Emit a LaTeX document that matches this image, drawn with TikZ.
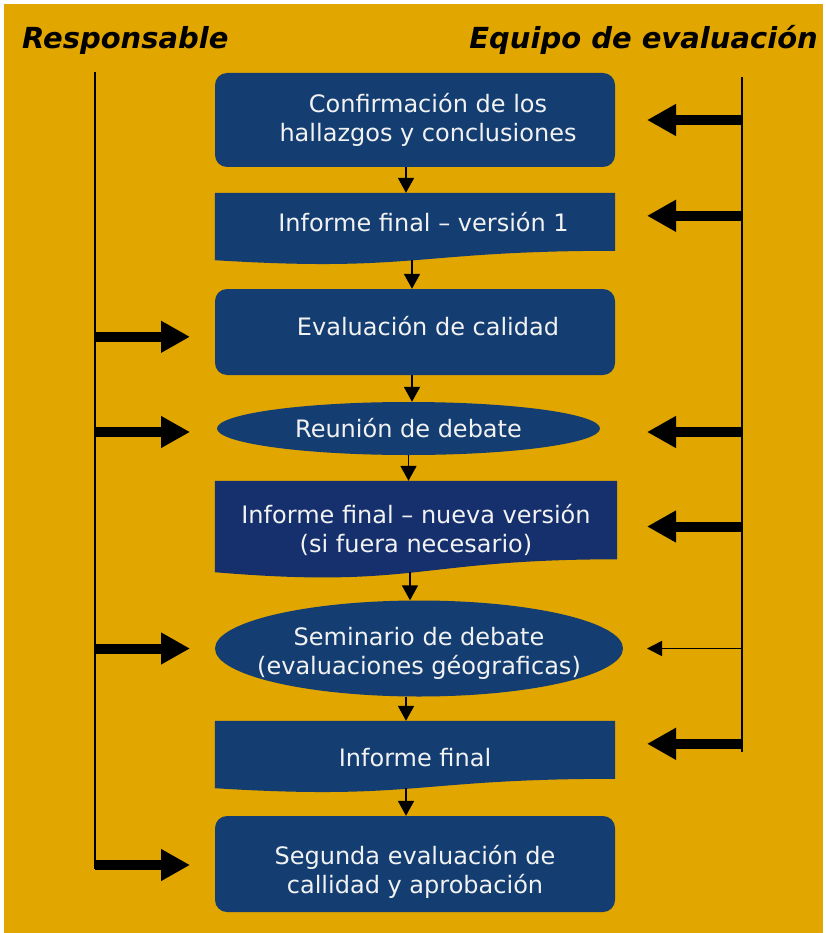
\documentclass[tikz,border=0pt]{standalone}
\usepackage{fontspec}
\setmainfont{DejaVu Sans}
\usetikzlibrary{shapes.geometric, arrows.meta}
\definecolor{gold}{HTML}{E1A600}
\definecolor{boxblue}{HTML}{143E72}
\definecolor{navyblue}{HTML}{15306C}
\definecolor{boxtext}{HTML}{F2F2F2}
\pgfdeclarelayer{back}
\pgfdeclarelayer{docs}
\pgfsetlayers{back,docs,main}
\tikzset{
    stepbox/.style={rectangle, rounded corners=12pt, fill=boxblue, text=boxtext, minimum width=400pt, inner sep=0pt, align=center, font=\fontsize{24}{29}\selectfont},
    docbox/.style={rectangle, minimum width=400pt, inner sep=0pt, align=center, text=boxtext, font=\fontsize{24}{29}\selectfont},
    talkbox/.style={ellipse, fill=boxblue, text=boxtext, inner ysep=0pt, inner xsep=-40pt, align=center, font=\fontsize{24}{29}\selectfont},
    head/.style={inner sep=0pt, font=\fontsize{29}{35}\selectfont\bfseries\itshape},
    lane/.style={line width=1.6pt},
    flow/.style={-{Triangle[width=16pt,length=15pt]}, line width=1.8pt},
    fat/.style={-{Triangle[width=30pt,length=29pt]}, line width=10pt},
    slim/.style={-{Triangle[width=15pt,length=15pt]}, line width=1.6pt},
}
% document shape under a node: node, colour, rise of the right corner
\newcommand{\docwave}[3]{%
    \fill[#2] (#1.north west) -- (#1.north east) -- ([yshift=#3]#1.south east)
        .. controls ([yshift=#3]#1.south) and ([yshift=-1.32*#3]#1.south) .. (#1.south west) -- cycle;}
% invisible struts to move a text up or down in its box
\newcommand{\padabove}[1]{\rule{0pt}{#1}}
\newcommand{\padbelow}[1]{\rule[-#1]{0pt}{#1}}
\begin{document}
\begin{tikzpicture}[x=1pt, y=-1pt]
    \useasboundingbox (0,0) rectangle (825,933);
    \begin{pgfonlayer}{back}
        \fill[gold] (4,4) rectangle (823,933);
    \end{pgfonlayer}

    \node[head, anchor=base west] (resp) at (22,49) {Responsable};
    \node[head, anchor=base east] (equipo) at (818,49) {Equipo de evaluación};

    \node[stepbox, minimum height=94pt] (conf) at (415,120) {\hspace*{26pt}Confirmación de los\\\hspace*{26pt}hallazgos y conclusiones};
    \node[docbox, minimum height=67pt] (inf1) at (415,226.5) {\hspace*{17pt}Informe final -- versión 1\padbelow{10pt}};
    \node[stepbox, minimum height=86pt] (eval) at (415,332) {\hspace*{26pt}Evaluación de calidad\padbelow{12pt}};
    \node[talkbox, minimum width=383pt, minimum height=53pt] (reun) at (408.5,428.5) {Reunión de debate};
    \node[docbox, minimum width=402pt, minimum height=91pt] (inf2) at (416,526.5) {\padabove{25.5pt}Informe final -- nueva versión\\(si fuera necesario)};
    \node[talkbox, minimum width=408pt, minimum height=96pt] (sem) at (419,648.5) {\padabove{27pt}Seminario de debate\\(evaluaciones géograficas)};
    \node[docbox, minimum height=67pt] (inff) at (415,754.5) {\padabove{24pt}Informe final};
    \node[stepbox, minimum height=96pt] (seg) at (415,864) {\padabove{35pt}Segunda evaluación de\\callidad y aprobación};

    \begin{pgfonlayer}{docs}
        \docwave{inf1}{boxblue}{9.4pt}
        \docwave{inf2}{navyblue}{12.9pt}
        \docwave{inff}{boxblue}{9.4pt}
    \end{pgfonlayer}

    % flow between the steps
    \draw[flow] ([xshift=-9pt]conf.south) -- ([xshift=-9pt]inf1.north);
    \draw[flow] ([xshift=-3pt]inf1.south) -- ([xshift=-3pt]eval.north);
    \draw[flow] ([xshift=-3pt]eval.south) -- ([xshift=-3pt]eval.south |- reun.north);
    \draw[flow] (reun.south) -- (reun.south |- inf2.north);
    \draw[flow] ([xshift=-6pt]inf2.south) -- ([xshift=-6pt]inf2.south |- sem.north);
    \draw[flow] ([xshift=-9pt]inff.north |- sem.south) -- ([xshift=-9pt]inff.north);
    \draw[flow] ([xshift=-9pt]inff.south) -- ([xshift=-9pt]seg.north);

    % responsable
    \coordinate (ltop) at (95,72);
    \coordinate (lbot) at (95,869);
    \draw[lane] (ltop) -- (lbot);
    \draw[fat] (ltop |- eval.north) ++(0,48) -- ++(95,0);
    \draw[fat] (ltop |- reun) ++(0,3.5) -- ++(95,0);
    \draw[fat] (ltop |- sem) -- ++(95,0);
    \draw[fat] (ltop |- seg) ++(0,1) -- ++(95,0);

    % equipo de evaluacion
    \coordinate (rtop) at (742,77);
    \coordinate (rbot) at (742,752);
    \draw[lane] (rtop) -- (rbot);
    \draw[fat] (rtop |- conf) -- ++(-95,0);
    \draw[fat] (rtop |- inf1.north) ++(0,23) -- ++(-95,0);
    \draw[fat] (rtop |- reun) ++(0,3.5) -- ++(-95,0);
    \draw[fat] (rtop |- inf2) -- ++(-95,0);
    \draw[slim] (rtop |- sem) -- ++(-95,0);
    \draw[fat] (rtop |- inff.north) ++(0,23) -- ++(-95,0);
\end{tikzpicture}
\end{document}
